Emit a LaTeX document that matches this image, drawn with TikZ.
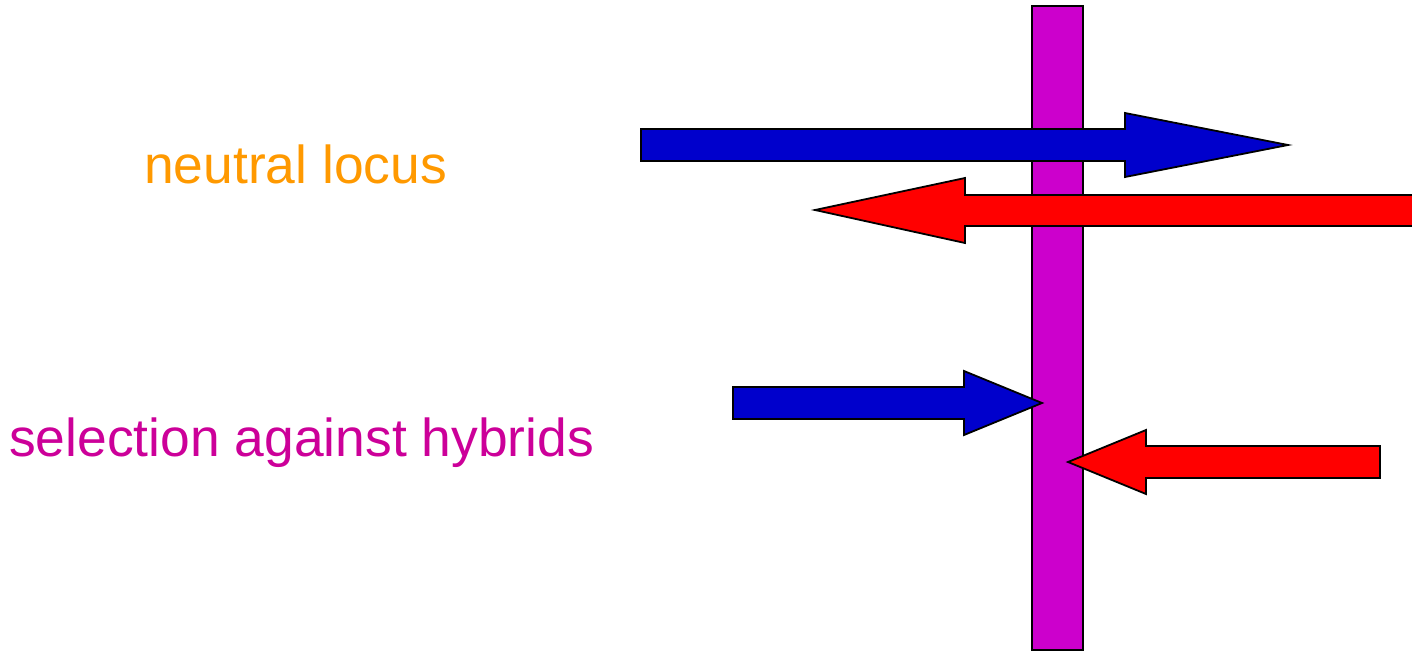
\documentclass[tikz,border=0pt]{standalone}
\usepackage{fontspec}
\setmainfont{Liberation Sans}
\definecolor{barmag}{HTML}{CC00CC}
\definecolor{arrblue}{HTML}{0000CC}
\definecolor{arrred}{HTML}{FF0000}
\definecolor{txtorange}{HTML}{FF9900}
\definecolor{txtmag}{HTML}{CC0099}
\begin{document}
\begin{tikzpicture}[x=1pt,y=-1pt,
  shapeline/.style={draw=black,line width=1.8pt,line join=miter},
  label/.style={inner sep=0pt,anchor=base west,font=\fontsize{53.4}{60}\selectfont}]
\useasboundingbox (0,0) rectangle (1412,651);
% bar
\path[shapeline,fill=barmag] (1032,6) rectangle (1083,650);
% top blue arrow
\path[shapeline,fill=arrblue] (641,129) -- (1125,129) -- (1125,113) -- (1288,145) -- (1125,177) -- (1125,161) -- (641,161) -- cycle;
% top red arrow
\path[shapeline,fill=arrred] (1414,195) -- (965,195) -- (965,178) -- (815,210) -- (965,243) -- (965,226) -- (1414,226) -- cycle;
% lower blue arrow
\path[shapeline,fill=arrblue] (733,387) -- (964,387) -- (964,371) -- (1042,403) -- (964,435) -- (964,419) -- (733,419) -- cycle;
% lower red arrow
\path[shapeline,fill=arrred] (1380,446) -- (1146,446) -- (1146,430) -- (1068,462) -- (1146,494) -- (1146,478) -- (1380,478) -- cycle;
% labels
\node[label,text=txtorange] (neutral) at (144,183) {neutral locus};
\node[label,text=txtmag] (selection) at (9,456) {selection against hybrids};
\end{tikzpicture}
\end{document}
